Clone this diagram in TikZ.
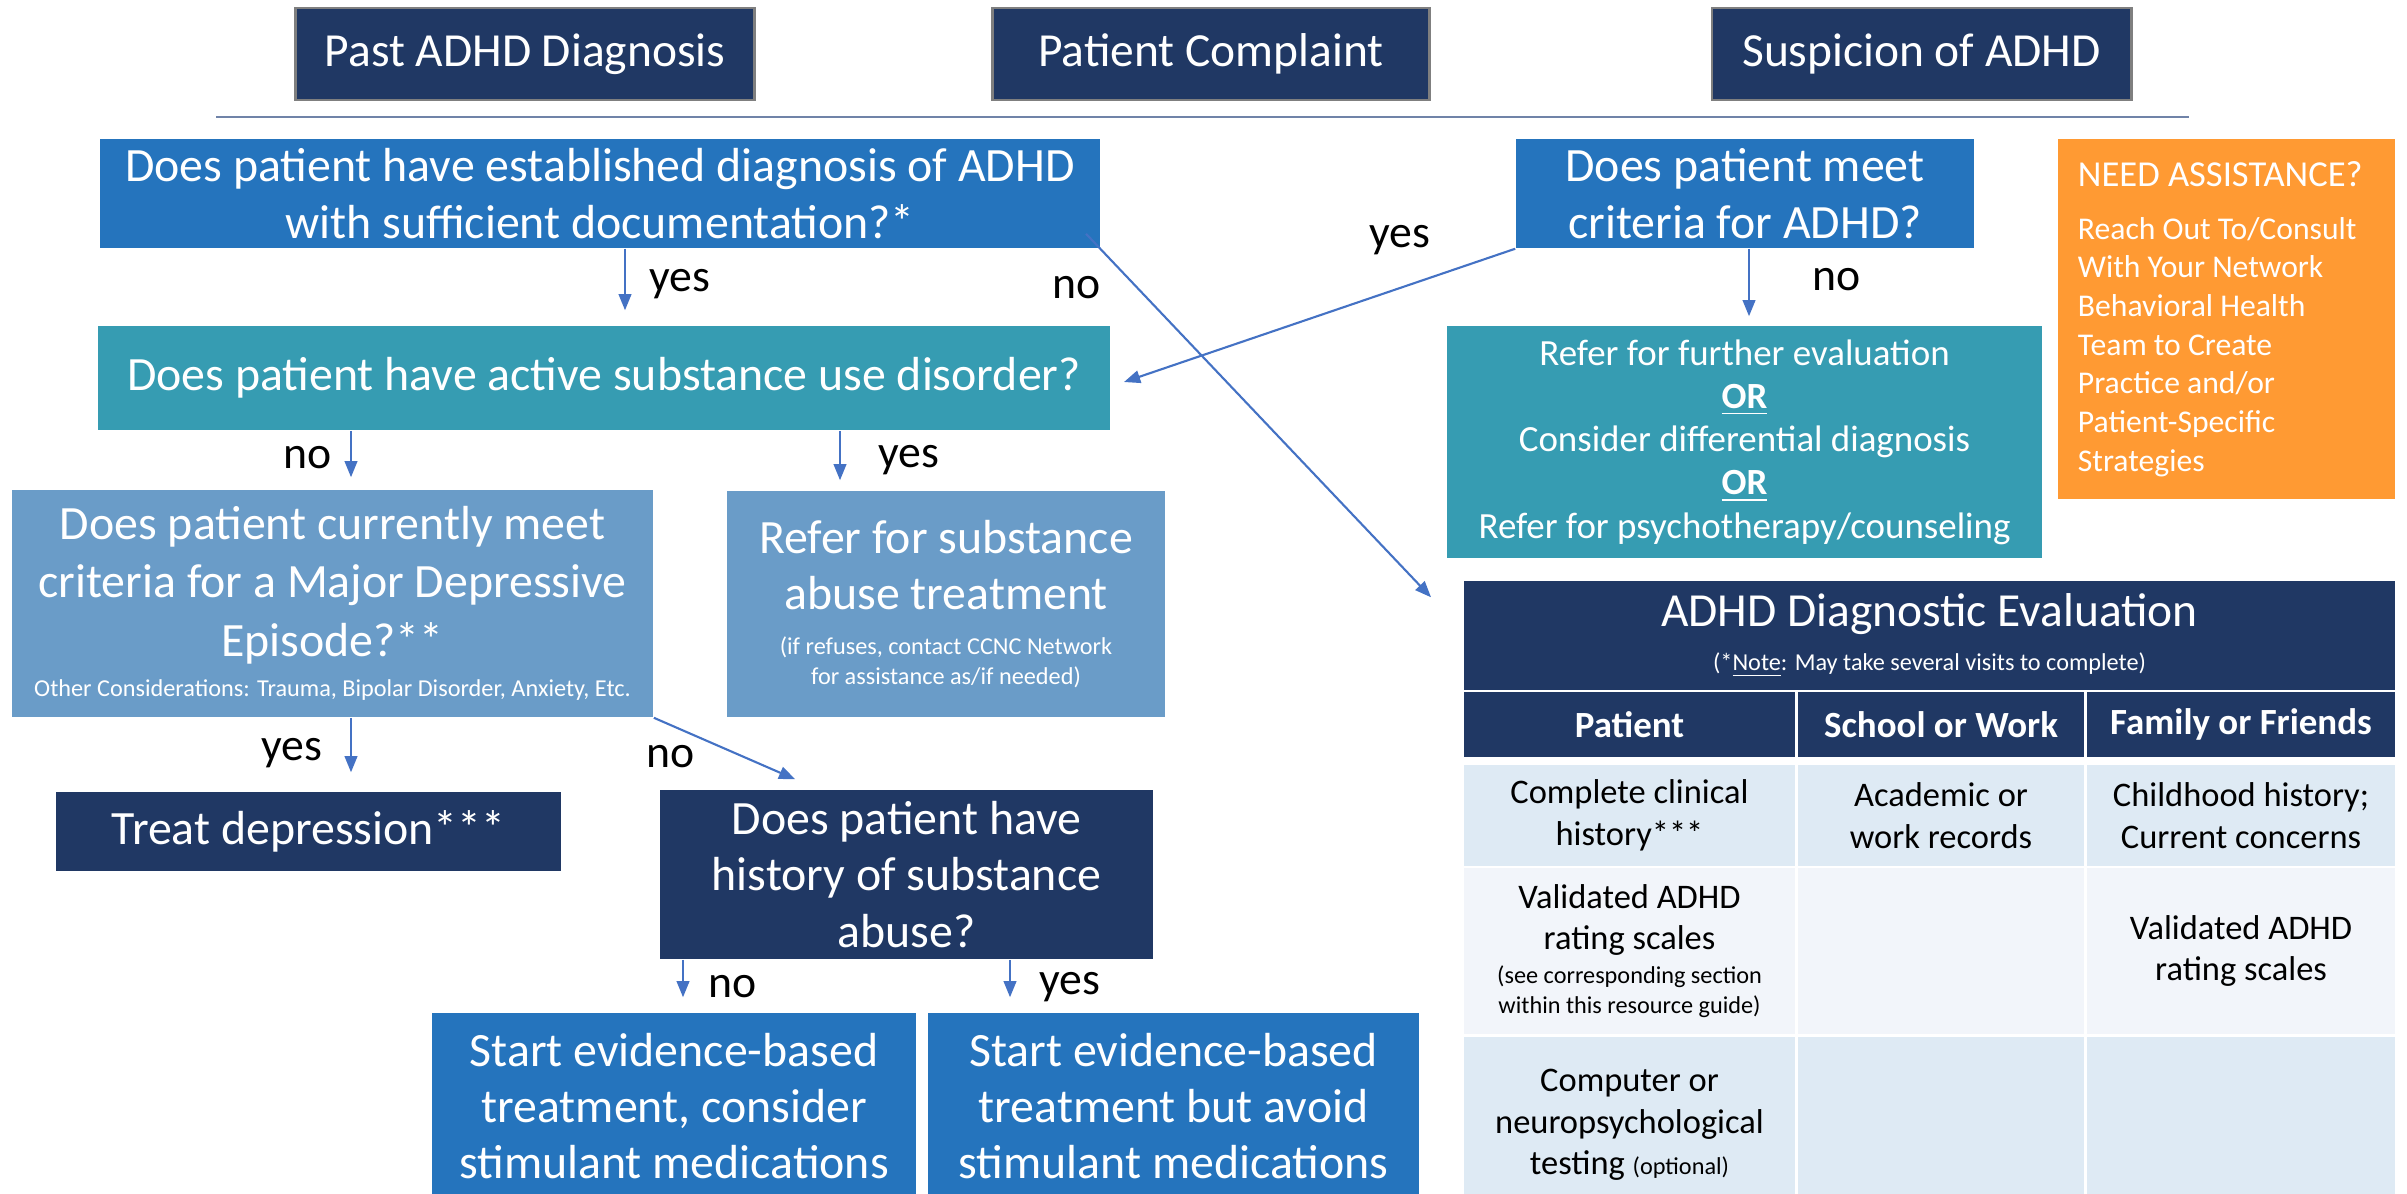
\documentclass[tikz,border=0pt]{standalone}
\usepackage{fontspec}
\setmainfont{Carlito}
\usetikzlibrary{arrows.meta}
\definecolor{navy}{HTML}{203864}
\definecolor{midblue}{HTML}{2574BD}
\definecolor{tealbox}{HTML}{369CB2}
\definecolor{paleblue}{HTML}{6A9CC8}
\definecolor{orangebox}{HTML}{FF9A33}
\definecolor{arrowblue}{HTML}{4472C4}
\definecolor{rulegray}{HTML}{7083A8}
\definecolor{hdrline}{HTML}{7F7F7F}
\definecolor{rowlight}{HTML}{DEEAF4}
\definecolor{rowpale}{HTML}{F2F5FA}
\tikzset{
  box/.style={
    rectangle,
    inner sep=0,
    text=white,
    align=center,
    font=\fontsize{13.6}{16}\selectfont,
  },
  hdr/.style={
    box,
    fill=navy,
    draw=hdrline,
    line width=0.8pt,
    minimum height=0.92cm,
    font=\fontsize{13.5}{16}\selectfont,
  },
  cell/.style={
    rectangle,
    inner sep=0,
    align=center,
    font=\fontsize{9.8}{11.8}\selectfont,
  },
  headcell/.style={
    cell,
    fill=navy,
    text=white,
    minimum height=0.65cm,
    font=\fontsize{10.5}{12}\selectfont\bfseries,
  },
  lbl/.style={
    inner sep=0,
    font=\fontsize{13}{15}\selectfont,
  },
  arr/.style={
    draw=arrowblue,
    line width=0.6pt,
    -{Triangle[length=4.6pt,width=3.6pt]},
  },
}
\newcommand{\smalltxt}[1]{{\fontsize{6.9}{8}\selectfont #1}}

\begin{document}
\begin{tikzpicture}[x=0.01cm,y=-0.01cm]
  \useasboundingbox (0,0) rectangle (2407,1193);

  % headers
  \node[hdr,minimum width=4.58cm] at (525,54) (past) {Past ADHD Diagnosis};
  \node[hdr,minimum width=4.36cm] at (1211,54) (complaint) {Patient Complaint};
  \node[hdr,minimum width=4.19cm] at (1921.5,54) (suspicion) {Suspicion of ADHD};
  \draw[rulegray,line width=0.6pt] (216,117) -- (2189,117); % rule

  % questions
  \node[box,fill=midblue,minimum width=10cm,minimum height=1.09cm] at (600,193.5) (estab)
    {Does patient have established diagnosis of ADHD\\with sufficient documentation?*};
  \node[box,fill=midblue,minimum width=4.58cm,minimum height=1.09cm] at (1745,193.5) (meet)
    {Does patient meet\\criteria for ADHD?};
  \node[box,fill=tealbox,minimum width=10.12cm,minimum height=1.04cm] at (604,378) (sud)
    {Does patient have active substance use disorder?};
  \node[box,fill=tealbox,minimum width=5.95cm,minimum height=2.32cm,
        font=\fontsize{10.5}{12.3}\selectfont] at (1744.5,442) (further)
    {Refer for further evaluation\\\textbf{\underline{OR}}\\Consider differential diagnosis\\
     \textbf{\underline{OR}}\\Refer for psychotherapy/counseling};
  \node[box,fill=orangebox,minimum width=3.37cm,minimum height=3.6cm,text width=2.97cm,
        align=flush left,font=\fontsize{9}{11}\selectfont] at (2226.5,319) (assist)
    {{\fontsize{10.4}{12}\selectfont NEED ASSISTANCE?}\\[4pt]
     Reach Out To/Consult\\With Your Network\\Behavioral Health\\Team to Create\\
     Practice and/or\\Patient-Specific\\Strategies};

  \node[box,fill=paleblue,minimum width=6.41cm,minimum height=2.27cm,
        font=\fontsize{13.6}{16.6}\selectfont] at (332.5,603.5) (mde)
    {Does patient currently meet\\criteria for a Major Depressive\\Episode?**\\[-5pt]
     \smalltxt{Other Considerations: Trauma, Bipolar Disorder, Anxiety, Etc.}};
  \node[box,fill=paleblue,minimum width=4.38cm,minimum height=2.26cm] at (946,604) (refsub)
    {Refer for substance\\abuse treatment\\[-3.2pt]
     \smalltxt{(if refuses, contact CCNC Network}\\[-7.5pt]
     \smalltxt{for assistance as/if needed)}};
  \node[box,fill=navy,minimum width=5.05cm,minimum height=0.79cm] at (308.5,831.5) (treat)
    {Treat depression***};
  \node[box,fill=navy,minimum width=4.93cm,minimum height=1.69cm] at (906.5,874.5) (hist)
    {Does patient have\\history of substance\\abuse?};
  \node[box,fill=midblue,minimum width=4.84cm,minimum height=1.86cm] at (674,1106) (start1)
    {Start evidence-based\\treatment, consider\\stimulant medications};
  \node[box,fill=midblue,minimum width=4.91cm,minimum height=1.86cm] at (1173.5,1106) (start2)
    {Start evidence-based\\treatment but avoid\\stimulant medications};

  % evaluation table
  \node[cell,fill=navy,text=white,minimum width=9.31cm,minimum height=1.09cm,
        font=\fontsize{13.5}{12.4}\selectfont] at (1929.5,635.5) (evtitle)
    {ADHD Diagnostic Evaluation\\\smalltxt{(*\underline{Note}: May take several visits to complete)}};
  \node[headcell,minimum width=3.31cm] at (1629.5,724.5) (h1) {Patient};
  \node[headcell,minimum width=2.86cm] at (1941,724.5) (h2) {School or Work};
  \node[headcell,minimum width=3.08cm] at (2241,724.5) (h3) {Family or Friends};

  \node[cell,fill=rowlight,minimum width=3.31cm,minimum height=1.01cm] at (1629.5,815.5) (c11)
    {Complete clinical\\history***};
  \node[cell,fill=rowlight,minimum width=2.86cm,minimum height=1.01cm] at (1941,815.5) (c12)
    {Academic or\\work records};
  \node[cell,fill=rowlight,minimum width=3.08cm,minimum height=1.01cm] at (2241,815.5) (c13)
    {Childhood history;\\Current concerns};

  \node[cell,fill=rowpale,minimum width=3.31cm,minimum height=1.66cm] at (1629.5,951) (c21)
    {Validated ADHD\\rating scales\\[-2.1pt]\smalltxt{(see corresponding section}\\[-3.3pt]
     \smalltxt{within this resource guide)}};
  \node[cell,fill=rowpale,minimum width=2.86cm,minimum height=1.66cm] at (1941,951) (c22) {};
  \node[cell,fill=rowpale,minimum width=3.08cm,minimum height=1.66cm] at (2241,951) (c23)
    {Validated ADHD\\rating scales};

  \node[cell,fill=rowlight,minimum width=3.31cm,minimum height=1.76cm] at (1629.5,1125) (c31)
    {Computer or\\neuropsychological\\testing \smalltxt{(optional)}};
  \node[cell,fill=rowlight,minimum width=2.86cm,minimum height=1.76cm] at (1941,1125) (c32) {};
  \node[cell,fill=rowlight,minimum width=3.08cm,minimum height=1.76cm] at (2241,1125) (c33) {};

  % connectors
  \draw[arr] ([shift={(25,0)}]estab.south) -- ([shift={(21,-15)}]sud.north);
  \draw[arr] ([shift={(-15,-15)}]estab.south east) -- ([shift={(-32,17)}]evtitle.north west);
  \draw[arr] (meet.south west) -- ([shift={(13,4)}]sud.east);
  \draw[arr] ([shift={(4,0)}]meet.south) -- ([shift={(4.5,-9)}]further.north);
  \draw[arr] ([shift={(-253,0)}]sud.south) -- ([shift={(18.5,-12)}]mde.north);
  \draw[arr] ([shift={(236,0)}]sud.south) -- ([shift={(-106,-10)}]refsub.north);
  \draw[arr] ([shift={(18.5,0)}]mde.south) -- ([shift={(42.5,-19)}]treat.north);
  \draw[arr] (mde.south east) -- ([shift={(136,-10)}]hist.north west);
  \draw[arr] ([shift={(-223.5,0)}]hist.south) -- ([shift={(9,-15)}]start1.north);
  \draw[arr] ([shift={(103.5,0)}]hist.south) -- ([shift={(-163.5,-15)}]start2.north);

  % labels
  \node[lbl] at (680,284) (yes1) {yes};
  \node[lbl] at (1077,288) (no1) {no};
  \node[lbl] at (1400,240) (yes2) {yes};
  \node[lbl] at (1837,280) (no2) {no};
  \node[lbl] at (308,458) (no3) {no};
  \node[lbl] at (909,460) (yes3) {yes};
  \node[lbl] at (292,753) (yes4) {yes};
  \node[lbl] at (671,757) (no4) {no};
  \node[lbl] at (733,987) (no5) {no};
  \node[lbl] at (1070,987) (yes5) {yes};
\end{tikzpicture}
\end{document}
